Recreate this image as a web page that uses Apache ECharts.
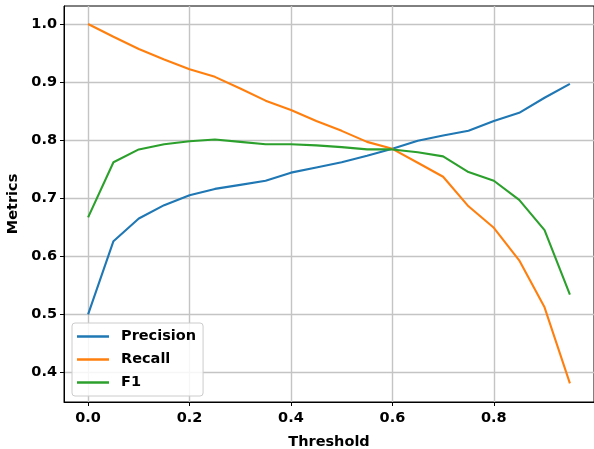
<!DOCTYPE html>
<html>
<head>
<meta charset="utf-8">
<script src="https://cdn.jsdelivr.net/npm/echarts@6/dist/echarts.min.js"></script>
<style>
html,body{margin:0;padding:0;background:#fff;}
#chart{width:594px;height:449px;}
</style>
</head>
<body>
<div id="chart"></div>
<script>
const thresholds = [0.00,0.05,0.10,0.15,0.20,0.25,0.30,0.35,0.40,0.45,0.50,0.55,0.60,0.65,0.70,0.75,0.80,0.85,0.90,0.95];
const precision = [0.500,0.626,0.665,0.688,0.705,0.716,0.723,0.730,0.744,0.753,0.762,0.773,0.785,0.799,0.808,0.816,0.833,0.847,0.873,0.897];
const recall    = [1.000,0.978,0.957,0.939,0.922,0.909,0.889,0.868,0.852,0.833,0.816,0.797,0.785,0.761,0.737,0.686,0.649,0.593,0.512,0.381];
const f1        = [0.667,0.762,0.784,0.793,0.798,0.801,0.797,0.793,0.793,0.791,0.788,0.784,0.784,0.779,0.772,0.745,0.730,0.697,0.645,0.534];
const xTicks = [0.0,0.2,0.4,0.6,0.8];
const yTicks = [0.4,0.5,0.6,0.7,0.8,0.9,1.0];
const seriesNames = ['Precision','Recall','F1'];
const colors = ['#1f77b4','#ff7f0e','#2ca02c'];

const font = 'DejaVu Sans';
const fs = 14.5;
const chart = echarts.init(document.getElementById('chart'), null, {renderer:'canvas'});
const pair = arr => thresholds.map((t,i)=>[t,arr[i]]);
const allSeries = [precision, recall, f1];

chart.setOption({
  animation:false,
  backgroundColor:'#fff',
  grid:{left:64,top:6,right:0,bottom:47,containLabel:false,outerBoundsMode:'none',show:true,borderColor:'#000',borderWidth:1,backgroundColor:'transparent'},
  legend:{
    orient:'vertical',left:72,top:323,
    data:seriesNames.map(n=>({name:n,icon:'rect'})),
    itemWidth:32,itemHeight:2.5,itemGap:8,
    padding:[6,7,6,5],
    backgroundColor:'rgba(255,255,255,0.85)',
    borderColor:'#cccccc',borderWidth:1,borderRadius:3,
    textStyle:{fontFamily:font,fontWeight:'bold',fontSize:fs,color:'#000',padding:[0,0,0,7]}
  },
  xAxis:{
    type:'value',min:-0.0475,max:0.9975,
    name:'Threshold',nameLocation:'middle',nameGap:33,
    nameTextStyle:{fontFamily:font,fontWeight:'bold',fontSize:fs,color:'#000'},
    axisLine:{show:true,onZero:false,lineStyle:{color:'#000',width:1}},
    axisTick:{show:true,length:4,customValues:xTicks,lineStyle:{color:'#000'}},
    axisLabel:{customValues:xTicks,fontFamily:font,fontWeight:'bold',fontSize:fs,color:'#000',margin:9,formatter:v=>v.toFixed(1)},
    splitLine:{show:true,lineStyle:{color:'#c4c4c4',width:1.4}}
  },
  yAxis:{
    type:'value',min:0.349,max:1.031,
    name:'Metrics',nameLocation:'middle',nameGap:42,
    nameTextStyle:{fontFamily:font,fontWeight:'bold',fontSize:fs,color:'#000'},
    axisLine:{show:true,onZero:false,lineStyle:{color:'#000',width:1}},
    axisTick:{show:true,length:4,customValues:yTicks,lineStyle:{color:'#000'}},
    axisLabel:{customValues:yTicks,fontFamily:font,fontWeight:'bold',fontSize:fs,color:'#000',margin:7,formatter:v=>v.toFixed(1)},
    splitLine:{show:true,lineStyle:{color:'#c4c4c4',width:1.4}}
  },
  series: seriesNames.map((n,i)=>({
    name:n,type:'line',data:pair(allSeries[i]),
    symbol:'none',showSymbol:false,
    lineStyle:{color:colors[i],width:2.1},
    itemStyle:{color:colors[i]},
    z:2+i
  }))
});
</script>
</body>
</html>
